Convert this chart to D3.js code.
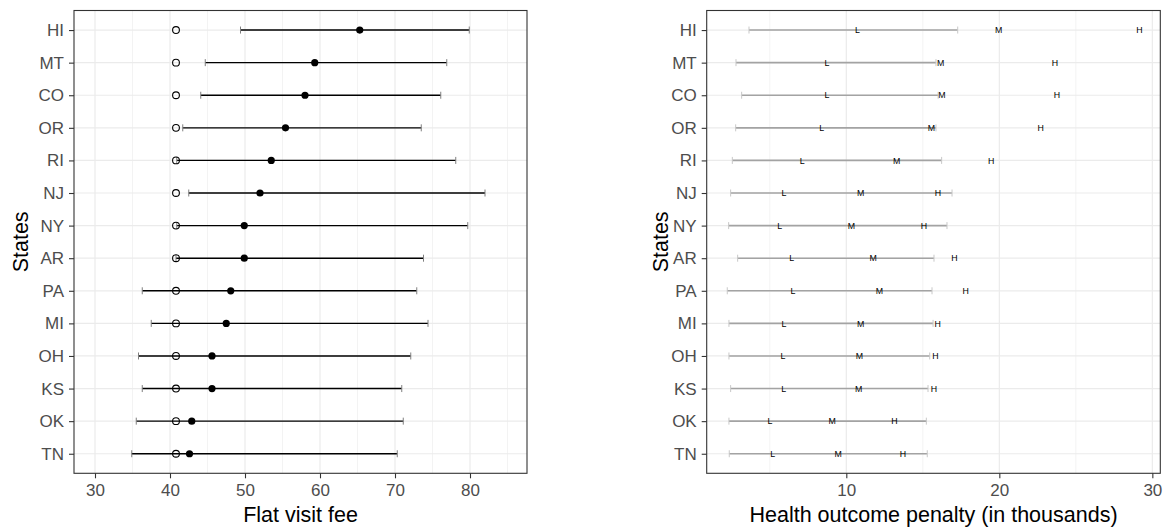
<!DOCTYPE html>
<html>
<head>
<meta charset="utf-8">
<script src="https://d3js.org/d3.v7.min.js"></script>
<style>
  body { margin: 0; background: #ffffff; }
  text { font-family: "Liberation Sans", Arial, sans-serif; }
</style>
</head>
<body>
<div id="chart"></div>
<script>
// states, top to bottom
var states = ["HI", "MT", "CO", "OR", "RI", "NJ", "NY", "AR", "PA", "MI", "OH", "KS", "OK", "TN"];

// left panel: flat visit fee
var feeBase = [40.8, 40.8, 40.8, 40.8, 40.8, 40.8, 40.8, 40.8, 40.8, 40.8, 40.8, 40.8, 40.8, 40.8];
var feeEst = [65.3, 59.3, 58.0, 55.4, 53.5, 52.0, 49.9, 49.9, 48.1, 47.5, 45.6, 45.6, 42.9, 42.6];
var feeLo = [49.4, 44.7, 44.1, 41.7, 40.9, 42.5, 40.9, 40.8, 36.3, 37.5, 35.8, 36.3, 35.5, 34.9];
var feeHi = [79.9, 76.9, 76.1, 73.5, 78.1, 82.0, 79.7, 73.8, 72.9, 74.4, 72.1, 70.9, 71.1, 70.3];
var feeTicks = [30, 40, 50, 60, 70, 80];
var feeMinor = [35, 45, 55, 65, 75, 85];

// right panel: health outcome penalty (thousands)
var penLo = [3.64, 2.79, 3.16, 2.77, 2.55, 2.44, 2.31, 2.90, 2.22, 2.33, 2.33, 2.44, 2.33, 2.35];
var penHi = [17.28, 15.86, 16.0, 15.86, 16.23, 16.91, 16.58, 15.73, 15.60, 15.67, 15.45, 15.34, 15.23, 15.29];
var penL = [10.72, 8.74, 8.74, 8.39, 7.12, 5.93, 5.65, 6.43, 6.52, 5.93, 5.86, 5.91, 5.01, 5.19];
var penM = [19.96, 16.17, 16.25, 15.56, 13.29, 10.94, 10.33, 11.76, 12.16, 10.94, 10.85, 10.81, 9.08, 9.46];
var penH = [29.15, 23.64, 23.77, 22.70, 19.46, 15.99, 15.08, 17.06, 17.80, 15.97, 15.82, 15.73, 13.14, 13.70];
var penTicks = [10, 20, 30];
var penMinor = [5, 15, 25];

var W = 1165, H = 529;
var panelTop = 10.5, panelBottom = 473.3;
var tickFont = "17px", titleFont = "21.5px";

var svg = d3.select("#chart")
    .append("svg")
    .attr("width", W)
    .attr("height", H);

var y = d3.scalePoint()
    .domain(states)
    .range([panelTop, panelBottom])
    .padding(0.6);

var xFee = d3.scaleLinear().domain([27.2, 87.6]).range([74, 527]);
var xPen = d3.scaleLinear().domain([0.876, 30.52]).range([706.7, 1160.3]);

var feeData = states.map(function(s, i) {
    return { s: s, base: feeBase[i], est: feeEst[i], lo: feeLo[i], hi: feeHi[i] };
});
var penData = states.map(function(s, i) {
    return { s: s, lo: penLo[i], hi: penHi[i], L: penL[i], M: penM[i], H: penH[i] };
});

// panel frame with grid, axes and titles
function drawPanel(x, ticks, minor, xTitle, ytitleX) {
    var x0 = x.range()[0], x1 = x.range()[1];
    var g = svg.append("g");

    g.selectAll(".minor").data(minor).enter()
        .append("line")
        .attr("x1", function(d) { return x(d); })
        .attr("x2", function(d) { return x(d); })
        .attr("y1", panelTop).attr("y2", panelBottom)
        .attr("stroke", "#ebebeb").attr("stroke-width", 0.6);

    g.selectAll(".major").data(ticks).enter()
        .append("line")
        .attr("x1", function(d) { return x(d); })
        .attr("x2", function(d) { return x(d); })
        .attr("y1", panelTop).attr("y2", panelBottom)
        .attr("stroke", "#ebebeb").attr("stroke-width", 1.2);

    g.selectAll(".hgrid").data(states).enter()
        .append("line")
        .attr("x1", x0).attr("x2", x1)
        .attr("y1", function(d) { return y(d); })
        .attr("y2", function(d) { return y(d); })
        .attr("stroke", "#ebebeb").attr("stroke-width", 1.2);

    // axes
    var ax = g.append("g")
        .attr("transform", "translate(0," + panelBottom + ")")
        .call(d3.axisBottom(x).tickValues(ticks).tickSize(5).tickPadding(6));
    ax.select(".domain").remove();
    ax.selectAll("line").attr("stroke", "#333333").attr("stroke-width", 1.1);
    ax.selectAll("text").attr("fill", "#4d4d4d").style("font-size", tickFont)
        .attr("font-family", "Liberation Sans, Arial, sans-serif");

    var ay = g.append("g")
        .attr("transform", "translate(" + x0 + ",0)")
        .call(d3.axisLeft(y).tickSize(5).tickPadding(5));
    ay.select(".domain").remove();
    ay.selectAll("line").attr("stroke", "#333333").attr("stroke-width", 1.1);
    ay.selectAll("text").attr("fill", "#4d4d4d").style("font-size", tickFont)
        .attr("font-family", "Liberation Sans, Arial, sans-serif");

    g.append("rect")
        .attr("x", x0).attr("y", panelTop)
        .attr("width", x1 - x0).attr("height", panelBottom - panelTop)
        .attr("fill", "none").attr("stroke", "#333333").attr("stroke-width", 1.1);

    g.append("text")
        .attr("x", (x0 + x1) / 2)
        .attr("y", 521.5)
        .attr("text-anchor", "middle")
        .style("font-size", titleFont)
        .attr("fill", "#000000")
        .text(xTitle);

    g.append("text")
        .attr("transform", "translate(" + ytitleX + "," + ((panelTop + panelBottom) / 2) + ") rotate(-90)")
        .attr("text-anchor", "middle")
        .style("font-size", titleFont)
        .attr("fill", "#000000")
        .text("States");
    return g;
}

drawPanel(xFee, feeTicks, feeMinor, "Flat visit fee", 27.5);
drawPanel(xPen, penTicks, penMinor, "Health outcome penalty (in thousands)", 667.5);

// left panel marks
var capH = 3.5;
var gl = svg.append("g");
gl.selectAll(".feeBar").data(feeData).enter()
    .append("line")
    .attr("x1", function(d) { return xFee(d.lo); })
    .attr("x2", function(d) { return xFee(d.hi); })
    .attr("y1", function(d) { return y(d.s); })
    .attr("y2", function(d) { return y(d.s); })
    .attr("stroke", "#000000").attr("stroke-width", 1.4);

["lo", "hi"].forEach(function(k) {
    gl.selectAll(".feeCap" + k).data(feeData).enter()
        .append("line")
        .attr("x1", function(d) { return xFee(d[k]); })
        .attr("x2", function(d) { return xFee(d[k]); })
        .attr("y1", function(d) { return y(d.s) - capH; })
        .attr("y2", function(d) { return y(d.s) + capH; })
        .attr("stroke", "#7f7f7f").attr("stroke-width", 1);
});

gl.selectAll(".feeBase").data(feeData).enter()
    .append("circle")
    .attr("cx", function(d) { return xFee(d.base); })
    .attr("cy", function(d) { return y(d.s); })
    .attr("r", 3.4)
    .attr("fill", "none")
    .attr("stroke", "#000000").attr("stroke-width", 1.1);

gl.selectAll(".feeEst").data(feeData).enter()
    .append("circle")
    .attr("cx", function(d) { return xFee(d.est); })
    .attr("cy", function(d) { return y(d.s); })
    .attr("r", 3.6)
    .attr("fill", "#000000");

// right panel marks
var gr = svg.append("g");
gr.selectAll(".penBar").data(penData).enter()
    .append("line")
    .attr("x1", function(d) { return xPen(d.lo); })
    .attr("x2", function(d) { return xPen(d.hi); })
    .attr("y1", function(d) { return y(d.s); })
    .attr("y2", function(d) { return y(d.s); })
    .attr("stroke", "#a3a3a3").attr("stroke-width", 1.6);

["lo", "hi"].forEach(function(k) {
    gr.selectAll(".penCap" + k).data(penData).enter()
        .append("line")
        .attr("x1", function(d) { return xPen(d[k]); })
        .attr("x2", function(d) { return xPen(d[k]); })
        .attr("y1", function(d) { return y(d.s) - capH; })
        .attr("y2", function(d) { return y(d.s) + capH; })
        .attr("stroke", "#c8c8c8").attr("stroke-width", 1);
});

["L", "M", "H"].forEach(function(k) {
    gr.selectAll(".pen" + k).data(penData).enter()
        .append("text")
        .attr("x", function(d) { return xPen(d[k]); })
        .attr("y", function(d) { return y(d.s); })
        .attr("dy", "0.36em")
        .attr("text-anchor", "middle")
        .style("font-size", "8.8px")
        .attr("fill", "#000000")
        .text(k);
});
</script>
</body>
</html>
